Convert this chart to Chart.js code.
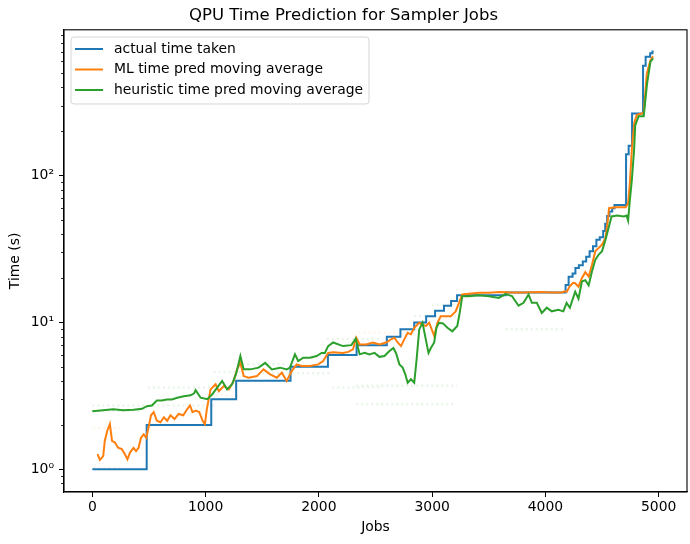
<!DOCTYPE html>
<html>
<head>
<meta charset="utf-8">
<script src="https://cdn.jsdelivr.net/npm/chart.js@4.4.0/dist/chart.umd.min.js"></script>
<style>
  html, body { margin: 0; padding: 0; background: #fff; }
</style>
</head>
<body>
<canvas id="chart" width="690" height="544"></canvas>
<script>
// actual time taken: step breakpoints (value starts at that job)
const actualJobs = [0, 480, 1050, 1270, 1750, 2080, 2333, 2600, 2720, 2842, 2947, 3026, 3105, 3167, 3220, 3650,
  4178, 4205, 4240, 4265, 4295, 4330, 4360, 4390, 4420, 4450, 4480, 4510, 4528, 4545, 4565, 4590, 4610,
  4712, 4735, 4765, 4862, 4885, 4925, 4945, 4955];
const actualTime = [1, 2, 3, 4, 5, 6, 7, 8, 9, 10, 11, 12, 13, 14, 15.3, 16,
  18, 20.5, 21.5, 23.5, 24.5, 26, 28, 30.5, 33, 36.5, 38, 42, 47, 53, 57, 60, 63,
  140, 160, 265, 560, 645, 680, 700, 700];

// ML time pred moving average
const mlJobs = [46, 67, 96, 110, 132, 155, 174, 200, 228, 260, 289, 310, 333, 364, 386, 408, 430, 453, 476, 497,
  518, 542, 570, 602, 632, 661, 690, 726, 763, 803, 840, 863, 884, 913, 944, 974, 994, 1012, 1044, 1088,
  1117, 1161, 1205, 1248, 1278, 1307, 1336, 1380, 1453, 1511, 1570, 1629, 1673, 1716, 1760, 1804, 1848, 1921, 1994, 2038,
  2082, 2126, 2213, 2260, 2301, 2330, 2360, 2418, 2477, 2535, 2593, 2637, 2667, 2696, 2725, 2754, 2784, 2813, 2842, 2886,
  2915, 2944, 2974, 3018, 3047, 3076, 3120, 3164, 3208, 3237, 3266, 3412, 3500, 3600, 3705, 3800, 3950, 4050, 4143, 4173,
  4190, 4216, 4246, 4263, 4292, 4322, 4352, 4382, 4411, 4441, 4471, 4500, 4531, 4554, 4562, 4619, 4709, 4730, 4745, 4763,
  4785, 4807, 4851, 4868, 4895, 4927, 4950];
const mlTime = [1.27, 1.16, 1.23, 1.56, 1.83, 2.03, 1.56, 1.52, 1.40, 1.37, 1.26, 1.17, 1.30, 1.40, 1.33, 1.40, 1.64, 1.73, 1.64, 1.93,
  2.33, 2.45, 2.14, 2.09, 2.26, 2.14, 2.33, 2.2, 2.38, 2.33, 2.58, 2.72, 2.45, 2.51, 2.45, 2.14, 2.03, 2.6, 3.5, 3.79,
  3.4, 3.69, 3.5, 3.99, 4.79, 5.3, 4.31, 4.2, 4.31, 4.79, 4.43, 4.2, 4.55, 3.99, 4.66, 5.18, 5.05, 5.05, 5.18, 5.46,
  6.2, 6.26, 6.2, 6.3, 6.55, 7.87, 7.08, 7.08, 7.3, 7.08, 7.3, 7.66, 7.87, 7.3, 6.9, 7.66, 8.5, 8.3, 9.2, 9.95,
  9.7, 9.45, 9.95, 8.1, 9.95, 11.0, 11.0, 11.0, 11.9, 13.6, 15.5, 15.9, 15.9, 16.1, 16.0, 16.0, 16.1, 16.0, 16.0, 16.3,
  16.2, 17.7, 18.6, 18.5, 17.5, 20, 22, 20.5, 24.7, 30.6, 32.2, 33.9, 37.8, 52, 60, 60.8, 60.8, 64.5, 88, 150,
  230, 259, 265, 268, 495, 610, 650];

// heuristic time pred moving average
const heurJobs = [0, 96, 184, 272, 364, 439, 482, 526, 570, 614, 658, 702, 750, 807, 868, 899, 912, 956, 1015, 1059,
  1102, 1146, 1190, 1234, 1272, 1307, 1336, 1395, 1468, 1526, 1585, 1658, 1716, 1745, 1789, 1818, 1862, 1921, 1980, 2024,
  2053, 2082, 2126, 2213, 2287, 2325, 2360, 2404, 2447, 2491, 2535, 2579, 2623, 2658, 2681, 2711, 2740, 2763, 2784, 2813,
  2842, 2863, 2886, 2915, 2944, 2968, 2989, 3018, 3038, 3061, 3096, 3135, 3178, 3222, 3243, 3266, 3325, 3412, 3500, 3588,
  3646, 3705, 3763, 3807, 3851, 3880, 3924, 3968, 4012, 4056, 4114, 4158, 4187, 4216, 4233, 4263, 4292, 4322, 4352, 4382,
  4411, 4441, 4471, 4500, 4531, 4554, 4584, 4634, 4693, 4717, 4730, 4745, 4763, 4783, 4793, 4823, 4868, 4897, 4927, 4951];
const heurTime = [2.48, 2.52, 2.56, 2.52, 2.54, 2.58, 2.69, 2.72, 2.94, 2.94, 2.99, 2.99, 3.07, 3.14, 3.19, 3.29, 3.46, 3.07, 3.0, 3.24,
  3.6, 3.99, 3.5, 3.79, 4.55, 5.9, 4.79, 4.79, 4.92, 5.3, 4.79, 4.92, 4.79, 4.92, 6.06, 5.46, 5.75, 5.75, 5.9, 6.2,
  6.2, 6.9, 7.3, 6.9, 7.0, 7.74, 6.06, 6.2, 6.06, 6.2, 5.83, 5.9, 6.38, 6.7, 6.2, 5.18, 4.92, 4.43, 3.88, 4.1,
  3.88, 5.6, 8.96, 9.95, 7.66, 6.2, 6.7, 7.3, 9.2, 9.95, 9.85, 9.2, 8.7, 9.45, 11.6, 15.1, 15.1, 15.3, 15.1, 14.7,
  15.6, 15.1, 13.0, 13.6, 15.5, 13.6, 13.6, 11.6, 12.6, 11.9, 12.2, 11.9, 13.6, 12.6, 13.8, 16.2, 14.5, 19, 19.4, 17.9,
  22.2, 26.8, 29, 30.6, 36.7, 43, 52.7, 53.4, 52.7, 53.4, 49.5, 67.5, 93, 150, 220, 254, 254, 420, 595, 630];

// faint clusters of individual predictions (time, first job, last job)
const heurDashTime = [2.72, 2.5, 3.6, 4.6, 5.2, 4.5, 7.7, 3.6, 3.7, 2.77, 11, 13.2, 9];
const heurDashStart = [0, 0, 490, 1070, 1325, 1500, 2070, 2120, 2330, 2330, 2840, 3000, 3650];
const heurDashEnd = [1080, 440, 1100, 1310, 1700, 2100, 2540, 2540, 3220, 3200, 3220, 3220, 4175];
const mlDashTime = [1.03, 1.9, 3.2, 5.7, 8.5, 62];
const mlDashStart = [10, 10, 1090, 1800, 2350, 4550];
const mlDashEnd = [270, 270, 1300, 2100, 2800, 4720];

const xTicks = [0, 1000, 2000, 3000, 4000, 5000];
const yMajor = [1, 10, 100];
const yMinor = [0.8, 0.9, 2, 3, 4, 5, 6, 7, 8, 9, 20, 30, 40, 50, 60, 70, 80, 90, 200, 300, 400, 500, 600, 700, 800, 900];
const yLabels = { 1: '10\u2070', 10: '10\u00b9', 100: '10\u00b2' };

const FONT = 'DejaVu Sans';
const toPoints = (xs, ys) => xs.map((x, i) => ({ x: x, y: ys[i] }));
const toDashes = (ys, x0s, x1s) => {
  const pts = [];
  ys.forEach((y, i) => {
    pts.push({ x: x0s[i], y: y }, { x: x1s[i], y: y }, { x: x1s[i], y: null });
  });
  return pts;
};

const frameAndLegend = {
  id: 'frameAndLegend',
  afterDraw(chart) {
    const { ctx, chartArea: a } = chart;
    ctx.save();
    // top and right spines
    ctx.strokeStyle = '#000';
    ctx.lineWidth = 1.1;
    ctx.strokeRect(a.left, a.top, a.right - a.left, a.bottom - a.top);
    // minor ticks on the log axis
    const y = chart.scales.y;
    ctx.lineWidth = 0.8;
    yMinor.forEach(v => {
      const py = Math.round(y.getPixelForValue(v)) + 0.5;
      ctx.beginPath();
      ctx.moveTo(a.left - 3, py);
      ctx.lineTo(a.left, py);
      ctx.stroke();
    });
    // legend box
    const bx = 71, by = 37, bw = 298, bh = 67, r = 3;
    ctx.beginPath();
    ctx.roundRect(bx, by, bw, bh, r);
    ctx.fillStyle = 'rgba(255,255,255,0.8)';
    ctx.fill();
    ctx.strokeStyle = 'rgba(204,204,204,0.8)';
    ctx.lineWidth = 1;
    ctx.stroke();
    ctx.font = '13.9px "' + FONT + '"';
    ctx.textBaseline = 'middle';
    chart.data.datasets.filter(d => d.inLegend).forEach((d, i) => {
      const ry = 49 + i * 20.5;
      ctx.strokeStyle = d.borderColor;
      ctx.lineWidth = 2;
      ctx.beginPath();
      ctx.moveTo(75, ry);
      ctx.lineTo(103, ry);
      ctx.stroke();
      ctx.fillStyle = '#000';
      ctx.fillText(d.label, 114, ry);
    });
    ctx.restore();
  }
};

const mainLine = { pointRadius: 0, borderWidth: 2, tension: 0, fill: false, inLegend: true };
const dashLine = { pointRadius: 0, borderWidth: 2.5, borderDash: [2, 3], tension: 0, fill: false, spanGaps: false };

new Chart(document.getElementById('chart').getContext('2d'), {
  type: 'line',
  data: {
    datasets: [
      { ...dashLine, label: 'heuristic preds', data: toDashes(heurDashTime, heurDashStart, heurDashEnd),
        borderColor: 'rgba(44,160,44,0.1)', order: 5 },
      { ...dashLine, label: 'ML preds', data: toDashes(mlDashTime, mlDashStart, mlDashEnd),
        borderColor: 'rgba(255,127,14,0.08)', order: 4 },
      { ...mainLine, label: 'actual time taken', data: toPoints(actualJobs, actualTime),
        borderColor: '#1f77b4', stepped: true, order: 3 },
      { ...mainLine, label: 'ML time pred moving average', data: toPoints(mlJobs, mlTime),
        borderColor: '#ff7f0e', order: 2 },
      { ...mainLine, label: 'heuristic time pred moving average', data: toPoints(heurJobs, heurTime),
        borderColor: '#2ca02c', order: 1 }
    ]
  },
  options: {
    responsive: false,
    animation: false,
    layout: { padding: { top: 0, right: 3, bottom: 0, left: 0 } },
    plugins: {
      legend: { display: false },
      tooltip: { enabled: false },
      title: {
        display: true,
        text: 'QPU Time Prediction for Sampler Jobs',
        color: '#000',
        font: { family: FONT, size: 16.5, weight: 'normal' },
        padding: { top: 6, bottom: 4 }
      }
    },
    scales: {
      x: {
        type: 'linear',
        min: -250,
        max: 5250,
        afterBuildTicks: s => { s.ticks = xTicks.map(v => ({ value: v })); },
        afterFit: s => { s.height = 52; },
        ticks: { color: '#000', font: { family: FONT, size: 13.9 }, padding: 2, maxRotation: 0, callback: v => String(v) },
        grid: { drawOnChartArea: false, tickLength: 5, tickColor: '#000', tickWidth: 1 },
        border: { color: '#000', width: 1.1 },
        title: { display: true, text: 'Jobs', color: '#000', font: { family: FONT, size: 13.9 }, padding: { top: 0, bottom: 8 } }
      },
      y: {
        type: 'logarithmic',
        min: 0.708,
        max: 984,
        afterBuildTicks: s => { s.ticks = yMajor.map(v => ({ value: v, major: true })); },
        afterFit: s => { s.width = 64; },
        ticks: {
          color: '#000',
          font: { family: FONT, size: 13.9 },
          padding: 5,
          callback: v => yLabels[v] || ''
        },
        grid: { drawOnChartArea: false, tickLength: 5, tickColor: '#000', tickWidth: 1 },
        border: { color: '#000', width: 1.1 },
        title: { display: true, text: 'Time (s)', color: '#000', font: { family: FONT, size: 13.9 }, padding: { top: 7, bottom: 0 } }
      }
    }
  },
  plugins: [frameAndLegend]
});
</script>
</body>
</html>
